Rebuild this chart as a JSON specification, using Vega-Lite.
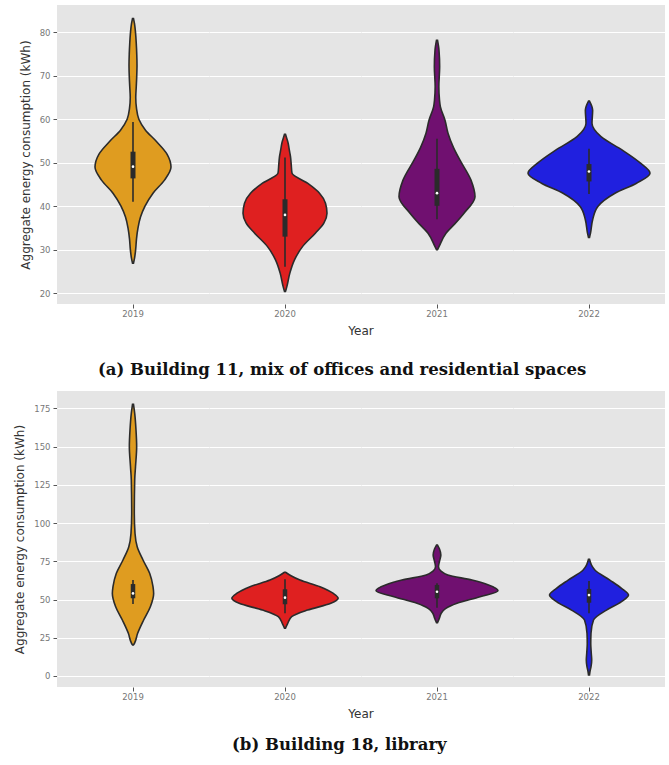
{
  "$schema": "https://vega.github.io/schema/vega-lite/v6.json",
  "padding": {"left": 13, "top": 5, "right": 0, "bottom": 5},
  "spacing": 12,
  "datasets": {
    "a": [
      {"Year": "2019", "kind": "v", "kWh": 26.9, "w": 1},
      {"Year": "2019", "kind": "v", "kWh": 28, "w": 3},
      {"Year": "2019", "kind": "v", "kWh": 30, "w": 5.3},
      {"Year": "2019", "kind": "v", "kWh": 32.5, "w": 7},
      {"Year": "2019", "kind": "v", "kWh": 35, "w": 10},
      {"Year": "2019", "kind": "v", "kWh": 37.5, "w": 15},
      {"Year": "2019", "kind": "v", "kWh": 40, "w": 24},
      {"Year": "2019", "kind": "v", "kWh": 43, "w": 40},
      {"Year": "2019", "kind": "v", "kWh": 46, "w": 63},
      {"Year": "2019", "kind": "v", "kWh": 49, "w": 76},
      {"Year": "2019", "kind": "v", "kWh": 52, "w": 68},
      {"Year": "2019", "kind": "v", "kWh": 55, "w": 46},
      {"Year": "2019", "kind": "v", "kWh": 57.5, "w": 25},
      {"Year": "2019", "kind": "v", "kWh": 60, "w": 11.7},
      {"Year": "2019", "kind": "v", "kWh": 62.5, "w": 7},
      {"Year": "2019", "kind": "v", "kWh": 65, "w": 5.5},
      {"Year": "2019", "kind": "v", "kWh": 67.5, "w": 6.5},
      {"Year": "2019", "kind": "v", "kWh": 70, "w": 7.5},
      {"Year": "2019", "kind": "v", "kWh": 72.5, "w": 8},
      {"Year": "2019", "kind": "v", "kWh": 75, "w": 7.5},
      {"Year": "2019", "kind": "v", "kWh": 77.5, "w": 6.5},
      {"Year": "2019", "kind": "v", "kWh": 80, "w": 5},
      {"Year": "2019", "kind": "v", "kWh": 82, "w": 3},
      {"Year": "2019", "kind": "v", "kWh": 83.2, "w": 1},
      {"Year": "2020", "kind": "v", "kWh": 20.4, "w": 1},
      {"Year": "2020", "kind": "v", "kWh": 21.5, "w": 3.7},
      {"Year": "2020", "kind": "v", "kWh": 24.6, "w": 9.7},
      {"Year": "2020", "kind": "v", "kWh": 27.65, "w": 19},
      {"Year": "2020", "kind": "v", "kWh": 30.7, "w": 35},
      {"Year": "2020", "kind": "v", "kWh": 33.8, "w": 60.7},
      {"Year": "2020", "kind": "v", "kWh": 36.1, "w": 77.7},
      {"Year": "2020", "kind": "v", "kWh": 38.4, "w": 84},
      {"Year": "2020", "kind": "v", "kWh": 40.7, "w": 81},
      {"Year": "2020", "kind": "v", "kWh": 43, "w": 69},
      {"Year": "2020", "kind": "v", "kWh": 45.3, "w": 45},
      {"Year": "2020", "kind": "v", "kWh": 47.6, "w": 14},
      {"Year": "2020", "kind": "v", "kWh": 49.5, "w": 12.5},
      {"Year": "2020", "kind": "v", "kWh": 51.4, "w": 11},
      {"Year": "2020", "kind": "v", "kWh": 53, "w": 8.5},
      {"Year": "2020", "kind": "v", "kWh": 54.5, "w": 6.3},
      {"Year": "2020", "kind": "v", "kWh": 55.8, "w": 3},
      {"Year": "2020", "kind": "v", "kWh": 56.55, "w": 1},
      {"Year": "2021", "kind": "v", "kWh": 30, "w": 1},
      {"Year": "2021", "kind": "v", "kWh": 30.7, "w": 4},
      {"Year": "2021", "kind": "v", "kWh": 33.8, "w": 18},
      {"Year": "2021", "kind": "v", "kWh": 36, "w": 36},
      {"Year": "2021", "kind": "v", "kWh": 38.4, "w": 54},
      {"Year": "2021", "kind": "v", "kWh": 42.2, "w": 76},
      {"Year": "2021", "kind": "v", "kWh": 46, "w": 68},
      {"Year": "2021", "kind": "v", "kWh": 50.6, "w": 46},
      {"Year": "2021", "kind": "v", "kWh": 53.5, "w": 33},
      {"Year": "2021", "kind": "v", "kWh": 56.8, "w": 22},
      {"Year": "2021", "kind": "v", "kWh": 59.8, "w": 16},
      {"Year": "2021", "kind": "v", "kWh": 62.9, "w": 6.7},
      {"Year": "2021", "kind": "v", "kWh": 64.4, "w": 5},
      {"Year": "2021", "kind": "v", "kWh": 67.5, "w": 3.7},
      {"Year": "2021", "kind": "v", "kWh": 72.1, "w": 5.3},
      {"Year": "2021", "kind": "v", "kWh": 75.9, "w": 4},
      {"Year": "2021", "kind": "v", "kWh": 78.2, "w": 1},
      {"Year": "2022", "kind": "v", "kWh": 32.8, "w": 1},
      {"Year": "2022", "kind": "v", "kWh": 33.8, "w": 3},
      {"Year": "2022", "kind": "v", "kWh": 36.9, "w": 7.3},
      {"Year": "2022", "kind": "v", "kWh": 39.9, "w": 17.3},
      {"Year": "2022", "kind": "v", "kWh": 43, "w": 52},
      {"Year": "2022", "kind": "v", "kWh": 45.3, "w": 95},
      {"Year": "2022", "kind": "v", "kWh": 47.6, "w": 122},
      {"Year": "2022", "kind": "v", "kWh": 49.9, "w": 103},
      {"Year": "2022", "kind": "v", "kWh": 52.9, "w": 66.7},
      {"Year": "2022", "kind": "v", "kWh": 56, "w": 24},
      {"Year": "2022", "kind": "v", "kWh": 59.1, "w": 6},
      {"Year": "2022", "kind": "v", "kWh": 62.1, "w": 7.3},
      {"Year": "2022", "kind": "v", "kWh": 64.2, "w": 1},
      {"Year": "2019", "kind": "b", "wlo": 41, "whi": 59.4, "q1": 46.4, "q3": 52.55, "med": 49.1},
      {"Year": "2020", "kind": "b", "wlo": 26.1, "whi": 51.2, "q1": 33.0, "q3": 41.6, "med": 38.0},
      {"Year": "2021", "kind": "b", "wlo": 37.0, "whi": 55.5, "q1": 40.1, "q3": 48.6, "med": 43.0},
      {"Year": "2022", "kind": "b", "wlo": 42.8, "whi": 53.2, "q1": 45.7, "q3": 49.7, "med": 48.0}
    ],
    "b": [
      {"Year": "2019", "kind": "v", "kWh": 20.3, "w": 1},
      {"Year": "2019", "kind": "v", "kWh": 21.4, "w": 3},
      {"Year": "2019", "kind": "v", "kWh": 27.9, "w": 9.3},
      {"Year": "2019", "kind": "v", "kWh": 36.6, "w": 21.3},
      {"Year": "2019", "kind": "v", "kWh": 45.3, "w": 34.7},
      {"Year": "2019", "kind": "v", "kWh": 54, "w": 41.3},
      {"Year": "2019", "kind": "v", "kWh": 58.4, "w": 40},
      {"Year": "2019", "kind": "v", "kWh": 67.1, "w": 33.3},
      {"Year": "2019", "kind": "v", "kWh": 75.8, "w": 20},
      {"Year": "2019", "kind": "v", "kWh": 84.5, "w": 8.4},
      {"Year": "2019", "kind": "v", "kWh": 93.3, "w": 4},
      {"Year": "2019", "kind": "v", "kWh": 106.3, "w": 2.6},
      {"Year": "2019", "kind": "v", "kWh": 128.1, "w": 3.4},
      {"Year": "2019", "kind": "v", "kWh": 136.8, "w": 5},
      {"Year": "2019", "kind": "v", "kWh": 149.9, "w": 7.3},
      {"Year": "2019", "kind": "v", "kWh": 160.8, "w": 6},
      {"Year": "2019", "kind": "v", "kWh": 171.7, "w": 3.4},
      {"Year": "2019", "kind": "v", "kWh": 177.6, "w": 1},
      {"Year": "2020", "kind": "v", "kWh": 31.2, "w": 1},
      {"Year": "2020", "kind": "v", "kWh": 34, "w": 5},
      {"Year": "2020", "kind": "v", "kWh": 38.8, "w": 13.3},
      {"Year": "2020", "kind": "v", "kWh": 43.1, "w": 45},
      {"Year": "2020", "kind": "v", "kWh": 47.5, "w": 91.7},
      {"Year": "2020", "kind": "v", "kWh": 50.8, "w": 106.3},
      {"Year": "2020", "kind": "v", "kWh": 54, "w": 96.7},
      {"Year": "2020", "kind": "v", "kWh": 58.4, "w": 70},
      {"Year": "2020", "kind": "v", "kWh": 62.7, "w": 30},
      {"Year": "2020", "kind": "v", "kWh": 65.5, "w": 12},
      {"Year": "2020", "kind": "v", "kWh": 67.8, "w": 1},
      {"Year": "2021", "kind": "v", "kWh": 34.8, "w": 1},
      {"Year": "2021", "kind": "v", "kWh": 38, "w": 5},
      {"Year": "2021", "kind": "v", "kWh": 41, "w": 8.4},
      {"Year": "2021", "kind": "v", "kWh": 44, "w": 17},
      {"Year": "2021", "kind": "v", "kWh": 47.5, "w": 40},
      {"Year": "2021", "kind": "v", "kWh": 51.8, "w": 86},
      {"Year": "2021", "kind": "v", "kWh": 55.8, "w": 122},
      {"Year": "2021", "kind": "v", "kWh": 59.5, "w": 103},
      {"Year": "2021", "kind": "v", "kWh": 62.7, "w": 70},
      {"Year": "2021", "kind": "v", "kWh": 66, "w": 21.6},
      {"Year": "2021", "kind": "v", "kWh": 68.5, "w": 8},
      {"Year": "2021", "kind": "v", "kWh": 71.4, "w": 3},
      {"Year": "2021", "kind": "v", "kWh": 75, "w": 5},
      {"Year": "2021", "kind": "v", "kWh": 79.1, "w": 7.7},
      {"Year": "2021", "kind": "v", "kWh": 83, "w": 5},
      {"Year": "2021", "kind": "v", "kWh": 85.6, "w": 1},
      {"Year": "2022", "kind": "v", "kWh": 0.65, "w": 1},
      {"Year": "2022", "kind": "v", "kWh": 3.9, "w": 2.5},
      {"Year": "2022", "kind": "v", "kWh": 6, "w": 4},
      {"Year": "2022", "kind": "v", "kWh": 10.5, "w": 5.4},
      {"Year": "2022", "kind": "v", "kWh": 15, "w": 4.5},
      {"Year": "2022", "kind": "v", "kWh": 21, "w": 3.5},
      {"Year": "2022", "kind": "v", "kWh": 27.9, "w": 4},
      {"Year": "2022", "kind": "v", "kWh": 36.6, "w": 9},
      {"Year": "2022", "kind": "v", "kWh": 43.1, "w": 35},
      {"Year": "2022", "kind": "v", "kWh": 48.6, "w": 65},
      {"Year": "2022", "kind": "v", "kWh": 52.9, "w": 79},
      {"Year": "2022", "kind": "v", "kWh": 57.3, "w": 65},
      {"Year": "2022", "kind": "v", "kWh": 62.7, "w": 41.7},
      {"Year": "2022", "kind": "v", "kWh": 69.3, "w": 11.7},
      {"Year": "2022", "kind": "v", "kWh": 72.5, "w": 5},
      {"Year": "2022", "kind": "v", "kWh": 76.3, "w": 1},
      {"Year": "2019", "kind": "b", "wlo": 47.1, "whi": 62.7, "q1": 50.8, "q3": 60.1, "med": 54.0},
      {"Year": "2020", "kind": "b", "wlo": 41.0, "whi": 63.2, "q1": 46.9, "q3": 56.7, "med": 51.2},
      {"Year": "2021", "kind": "b", "wlo": 44.6, "whi": 60.6, "q1": 50.8, "q3": 59.5, "med": 55.1},
      {"Year": "2022", "kind": "b", "wlo": 41.0, "whi": 62.1, "q1": 47.9, "q3": 56.9, "med": 52.9}
    ]
  },
  "vconcat": [
    {
      "data": {"name": "a"},
      "transform": [{"stack": "w", "groupby": ["Year", "kWh"], "offset": "center", "as": ["x0", "x1"]}],
      "title": {"text": "(a) Building 11, mix of offices and residential spaces", "orient": "bottom", "anchor": "middle", "font": "DejaVu Serif", "fontSize": 16.5, "fontWeight": "bold", "color": "#111", "offset": 25},
      "spacing": 0,
      "facet": {"column": {"field": "Year", "type": "nominal", "header": {"labelOrient": "bottom", "titleOrient": "bottom", "title": "Year", "labelFont": "DejaVu Sans", "labelFontSize": 8.5, "labelColor": "#777", "labelPadding": 1, "titleFont": "DejaVu Sans", "titleFontSize": 12, "titleColor": "#333", "titleFontWeight": "normal", "titlePadding": -2}}},
      "spec": {
        "width": 152,
        "height": 299,
        "layer": [
          {
            "transform": [{"filter": {"field": "kind", "equal": "v"}}],
            "mark": {"type": "area", "orient": "horizontal", "interpolate": "monotone", "stroke": "#2b2b2b", "strokeWidth": 1.6, "fillOpacity": 1},
            "encoding": {
              "y": {"field": "kWh", "type": "quantitative", "title": "Aggregate energy consumption (kWh)", "scale": {"domain": [17.5, 86.3], "nice": false, "zero": false}, "axis": {"values": [20, 30, 40, 50, 60, 70, 80], "grid": true, "gridColor": "#ffffff", "gridWidth": 1.1, "domain": false, "tickColor": "#555", "tickSize": 4, "labelFont": "DejaVu Sans", "labelFontSize": 8.5, "labelColor": "#777", "labelPadding": 3, "titleFont": "DejaVu Sans", "titleFontSize": 12, "titleFontWeight": "normal", "titleColor": "#333", "titlePadding": 7}},
              "x": {"field": "x0", "type": "quantitative", "scale": {"domain": [-15, 137], "nice": false, "zero": false}, "axis": {"values": [61], "labels": false, "domain": false, "grid": false, "ticks": true, "tickSize": 4, "tickColor": "#555", "title": null}},
              "x2": {"field": "x1"},
              "color": {"field": "Year", "type": "nominal", "scale": {"domain": ["2019", "2020", "2021", "2022"], "range": ["#DF9C20", "#DF2020", "#701070", "#2020DF"]}, "legend": null}
            }
          },
          {
            "transform": [{"filter": {"field": "kind", "equal": "b"}}],
            "mark": {"type": "rule", "color": "#2b2b2b", "strokeWidth": 1.6},
            "encoding": {
              "y": {"field": "wlo", "type": "quantitative", "title": "Aggregate energy consumption (kWh)"},
              "y2": {"field": "whi"}
            }
          },
          {
            "transform": [{"filter": {"field": "kind", "equal": "b"}}],
            "mark": {"type": "rule", "color": "#2b2b2b", "strokeWidth": 5},
            "encoding": {
              "y": {"field": "q1", "type": "quantitative", "title": "Aggregate energy consumption (kWh)"},
              "y2": {"field": "q3"}
            }
          },
          {
            "transform": [{"filter": {"field": "kind", "equal": "b"}}],
            "mark": {"type": "point", "filled": true, "color": "#ffffff", "opacity": 1, "size": 7},
            "encoding": {
              "y": {"field": "med", "type": "quantitative", "title": "Aggregate energy consumption (kWh)"}
            }
          }
        ]
      }
    },
    {
      "data": {"name": "b"},
      "transform": [{"stack": "w", "groupby": ["Year", "kWh"], "offset": "center", "as": ["x0", "x1"]}],
      "title": {"text": "(b) Building 18, library", "orient": "bottom", "anchor": "middle", "font": "DejaVu Serif", "fontSize": 16.5, "fontWeight": "bold", "color": "#111", "offset": 17},
      "spacing": 0,
      "facet": {"column": {"field": "Year", "type": "nominal", "header": {"labelOrient": "bottom", "titleOrient": "bottom", "title": "Year", "labelFont": "DejaVu Sans", "labelFontSize": 8.5, "labelColor": "#777", "labelPadding": 1, "titleFont": "DejaVu Sans", "titleFontSize": 12, "titleColor": "#333", "titleFontWeight": "normal", "titlePadding": -2}}},
      "spec": {
        "width": 152,
        "height": 296,
        "layer": [
          {
            "transform": [{"filter": {"field": "kind", "equal": "v"}}],
            "mark": {"type": "area", "orient": "horizontal", "interpolate": "monotone", "stroke": "#2b2b2b", "strokeWidth": 1.6, "fillOpacity": 1},
            "encoding": {
              "y": {"field": "kWh", "type": "quantitative", "title": "Aggregate energy consumption (kWh)", "scale": {"domain": [-7.2, 186.3], "nice": false, "zero": false}, "axis": {"values": [0, 25, 50, 75, 100, 125, 150, 175], "grid": true, "gridColor": "#ffffff", "gridWidth": 1.1, "domain": false, "tickColor": "#555", "tickSize": 4, "labelFont": "DejaVu Sans", "labelFontSize": 8.5, "labelColor": "#777", "labelPadding": 3, "titleFont": "DejaVu Sans", "titleFontSize": 12, "titleFontWeight": "normal", "titleColor": "#333", "titlePadding": 7}},
              "x": {"field": "x0", "type": "quantitative", "scale": {"domain": [-15, 137], "nice": false, "zero": false}, "axis": {"values": [61], "labels": false, "domain": false, "grid": false, "ticks": true, "tickSize": 4, "tickColor": "#555", "title": null}},
              "x2": {"field": "x1"},
              "color": {"field": "Year", "type": "nominal", "scale": {"domain": ["2019", "2020", "2021", "2022"], "range": ["#DF9C20", "#DF2020", "#701070", "#2020DF"]}, "legend": null}
            }
          },
          {
            "transform": [{"filter": {"field": "kind", "equal": "b"}}],
            "mark": {"type": "rule", "color": "#2b2b2b", "strokeWidth": 1.6},
            "encoding": {
              "y": {"field": "wlo", "type": "quantitative", "title": "Aggregate energy consumption (kWh)"},
              "y2": {"field": "whi"}
            }
          },
          {
            "transform": [{"filter": {"field": "kind", "equal": "b"}}],
            "mark": {"type": "rule", "color": "#2b2b2b", "strokeWidth": 4.5},
            "encoding": {
              "y": {"field": "q1", "type": "quantitative", "title": "Aggregate energy consumption (kWh)"},
              "y2": {"field": "q3"}
            }
          },
          {
            "transform": [{"filter": {"field": "kind", "equal": "b"}}],
            "mark": {"type": "point", "filled": true, "color": "#ffffff", "opacity": 1, "size": 7},
            "encoding": {
              "y": {"field": "med", "type": "quantitative", "title": "Aggregate energy consumption (kWh)"}
            }
          }
        ]
      }
    }
  ],
  "config": {
    "view": {"fill": "#E5E5E5", "stroke": null},
    "facet": {"spacing": 0},
    "axis": {"labelFont": "DejaVu Sans"}
  }
}
